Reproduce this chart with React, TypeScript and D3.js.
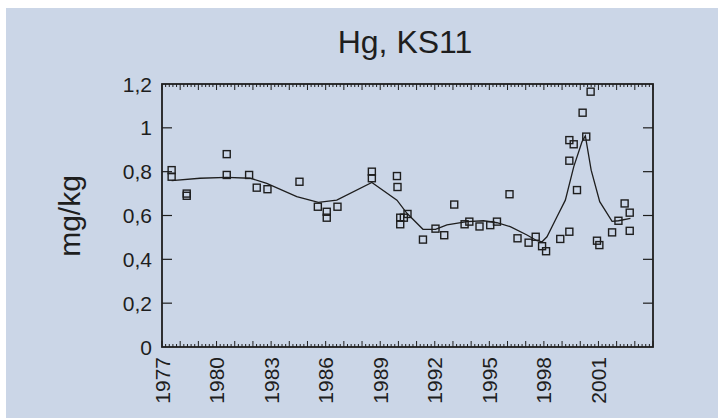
import React from "react";
import * as d3 from "d3";

const title = "Hg, KS11";
const yLabel = "mg/kg";
const yTicks = [0, 0.2, 0.4, 0.6, 0.8, 1, 1.2];
const yTickLabels = ["0", "0,2", "0,4", "0,6", "0,8", "1", "1,2"];
const xTicks = [1977, 1980, 1983, 1986, 1989, 1992, 1995, 1998, 2001];

const pointYears = [
  1977.53, 1977.53, 1978.36, 1978.36, 1980.56, 1980.56, 1981.79, 1982.21, 1982.8,
  1984.56, 1985.57, 1986.06, 1986.06, 1986.65, 1988.54, 1988.54, 1989.92, 1989.95,
  1990.1, 1990.1, 1990.3, 1990.5, 1991.35, 1992.04, 1992.52, 1993.07, 1993.64,
  1993.9, 1994.46, 1995.05, 1995.42, 1996.11, 1996.55, 1997.16, 1997.55, 1997.9,
  1998.12, 1998.9, 1999.4, 1999.4, 1999.4, 1999.64, 1999.82, 2000.13, 2000.33,
  2000.57, 2000.92, 2001.05, 2001.75, 2002.1, 2002.44, 2002.72, 2002.72,
];
const pointValues = [
  0.807, 0.777, 0.70, 0.69, 0.88, 0.785, 0.785, 0.727, 0.72,
  0.754, 0.64, 0.617, 0.59, 0.64, 0.80, 0.77, 0.78, 0.73,
  0.59, 0.56, 0.59, 0.607, 0.49, 0.54, 0.51, 0.65, 0.56,
  0.572, 0.55, 0.556, 0.572, 0.697, 0.496, 0.476, 0.503, 0.46,
  0.437, 0.493, 0.526, 0.85, 0.944, 0.925, 0.716, 1.069, 0.96,
  1.165, 0.485, 0.465, 0.523, 0.576, 0.655, 0.613, 0.53,
];

const lineYears = [
  1977.53, 1979.09, 1980.56, 1981.84, 1982.76, 1984.41, 1985.6, 1986.61, 1988.54,
  1989.92, 1990.47, 1991.35, 1992.04, 1992.67, 1993.77, 1994.68, 1995.42, 1996.15,
  1997.07, 1997.62, 1997.9, 1998.17, 1998.72, 1999.18, 1999.64, 2000.1, 2000.28,
  2000.6, 2001.07, 2001.75, 2002.1, 2002.76,
];
const lineValues = [
  0.759, 0.77, 0.774, 0.77, 0.747, 0.686, 0.66, 0.67, 0.751,
  0.67, 0.61, 0.537, 0.537, 0.557, 0.572, 0.576, 0.567, 0.549,
  0.511, 0.485, 0.48, 0.503, 0.594, 0.67, 0.822, 0.937, 0.963,
  0.807, 0.663, 0.573, 0.576, 0.587,
];

const W = 718;
const H = 419;
const left = 162;
const right = 653;
const top = 84;
const bottom = 347;
const FONT = "'Liberation Sans', Arial, sans-serif";
const INK = "#1e1e1e";

export default function App() {
  const x = d3.scaleLinear().domain([1977, 2004]).range([left, right]);
  const y = d3.scaleLinear().domain([0, 1.2]).range([bottom, top]);
  const line = d3
    .line<number>()
    .x((_, i) => x(lineYears[i]))
    .y((d) => y(d))
    .curve(d3.curveLinear);

  const minorTicks = d3.range(0, 27 * 5 + 1).map((i) => 1977 + i / 5);

  return (
    <svg
      width={W}
      height={H}
      style={{ position: "absolute", left: 0, top: 0 }}
    >
      <rect x={0} y={0} width={W} height={H} fill="#ffffff" />
      <rect x={6} y={8} width={W - 6} height={H - 9} fill="#cbd6e7" />
      <text
        x={405}
        y={53}
        textAnchor="middle"
        fontFamily={FONT}
        fontSize={32}
        fill={INK}
      >
        {title}
      </text>
      <text
        transform={`translate(80,216) rotate(-90)`}
        textAnchor="middle"
        fontFamily={FONT}
        fontSize={30}
        fill={INK}
      >
        {yLabel}
      </text>
      {/* frame */}
      <rect
        x={left}
        y={top}
        width={right - left}
        height={bottom - top}
        fill="none"
        stroke={INK}
        strokeWidth={1.8}
      />
      {/* minor x ticks */}
      {minorTicks.map((t, i) => {
        const len = i % 5 === 0 ? 6 : 3;
        return (
          <g key={"m" + i}>
            <line x1={x(t)} x2={x(t)} y1={top} y2={top + len} stroke={INK} strokeWidth={1} />
            <line x1={x(t)} x2={x(t)} y1={bottom} y2={bottom - len} stroke={INK} strokeWidth={1} />
          </g>
        );
      })}
      {/* y ticks */}
      {yTicks.map((t, i) => (
        <g key={"y" + i}>
          {i > 0 && i < yTicks.length - 1 && (
            <>
              <line x1={left} x2={left + 10} y1={y(t)} y2={y(t)} stroke={INK} strokeWidth={1.2} />
              <line x1={right} x2={right - 10} y1={y(t)} y2={y(t)} stroke={INK} strokeWidth={1.2} />
            </>
          )}
          <text
            x={left - 10}
            y={y(t)}
            dy="0.36em"
            textAnchor="end"
            fontFamily={FONT}
            fontSize={21}
            fill={INK}
          >
            {yTickLabels[i]}
          </text>
        </g>
      ))}
      {/* x labels */}
      {xTicks.map((t) => (
        <text
          key={"x" + t}
          transform={`translate(${x(t)},${bottom + 10}) rotate(-90)`}
          dy="0.36em"
          textAnchor="end"
          fontFamily={FONT}
          fontSize={21}
          fill={INK}
        >
          {t}
        </text>
      ))}
      {/* smooth line */}
      <path d={line(lineValues) || ""} fill="none" stroke={INK} strokeWidth={1.3} />
      {/* points */}
      {pointValues.map((v, i) => (
        <rect
          key={"p" + i}
          x={x(pointYears[i]) - 3.5}
          y={y(v) - 3.5}
          width={7}
          height={7}
          fill="none"
          stroke={INK}
          strokeWidth={1.4}
        />
      ))}
    </svg>
  );
}
